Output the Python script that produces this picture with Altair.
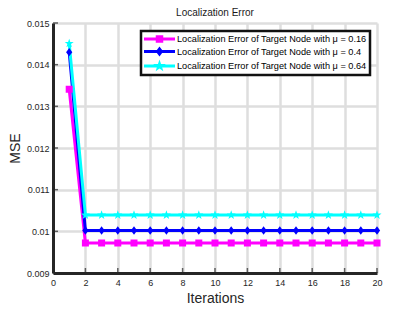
import altair as alt
import pandas as pd

iterations = [1, 2, 3, 4, 5, 6, 7, 8, 9, 10, 11, 12, 13, 14, 15, 16, 17, 18, 19, 20]
series_names = [
    "Localization Error of Target Node with μ = 0.16",
    "Localization Error of Target Node with μ = 0.4",
    "Localization Error of Target Node with μ = 0.64",
]
mse_016 = [0.01341, 0.00972, 0.00972, 0.00972, 0.00972, 0.00972, 0.00972, 0.00972, 0.00972, 0.00972,
           0.00972, 0.00972, 0.00972, 0.00972, 0.00972, 0.00972, 0.00972, 0.00972, 0.00972, 0.00972]
mse_040 = [0.01430, 0.01002, 0.01002, 0.01002, 0.01002, 0.01002, 0.01002, 0.01002, 0.01002, 0.01002,
           0.01002, 0.01002, 0.01002, 0.01002, 0.01002, 0.01002, 0.01002, 0.01002, 0.01002, 0.01002]
mse_064 = [0.01451, 0.01039, 0.01039, 0.01039, 0.01039, 0.01039, 0.01039, 0.01039, 0.01039, 0.01039,
           0.01039, 0.01039, 0.01039, 0.01039, 0.01039, 0.01039, 0.01039, 0.01039, 0.01039, 0.01039]
y_ticks = [0.009, 0.01, 0.011, 0.012, 0.013, 0.014, 0.015]
x_ticks = [0, 2, 4, 6, 8, 10, 12, 14, 16, 18, 20]

colors = ["#ff00ff", "#0000ff", "#00ffff"]

rows = []
for name, vals in zip(series_names, [mse_016, mse_040, mse_064]):
    for it, v in zip(iterations, vals):
        rows.append({"iteration": it, "mse": v, "series": name})
df = pd.DataFrame(rows)

xtick_df = pd.DataFrame({"iteration": x_ticks})
ytick_df = pd.DataFrame({"mse": y_ticks})

STAR = ("M0,-1L0.235,-0.324L0.951,-0.309L0.380,0.124L0.588,0.809L0,0.4"
        "L-0.588,0.809L-0.380,0.124L-0.951,-0.309L-0.235,-0.324Z")
DIAMOND = "M0,-1L0.75,0L0,1L-0.75,0Z"
SQUARE = "M-1,-1H1V1H-1Z"

# legend symbols: line segment + marker
LEG_SQ = "M-3.1,-0.3H3.1V0.3H-3.1Z M-0.75,-0.75H0.75V0.75H-0.75Z"
LEG_DI = "M-3.1,-0.3H3.1V0.3H-3.1Z M0,-1L0.75,0L0,1L-0.75,0Z"
LEG_ST = ("M-3.1,-0.3H3.1V0.3H-3.1Z M0,-1.3L0.306,-0.421L1.236,-0.402L0.494,0.161L0.764,1.052L0,0.52"
          "L-0.764,1.052L-0.494,0.161L-1.236,-0.402L-0.306,-0.421Z")

x_scale = alt.Scale(domain=[0, 20], nice=False)
y_scale = alt.Scale(domain=[0.009, 0.015], nice=False, zero=False)
x_enc = alt.X("iteration:Q", scale=x_scale,
              axis=alt.Axis(values=x_ticks, title="Iterations", labelPadding=5, titlePadding=4,
                            labelFlush=False, labelOverlap=False))
y_enc = alt.Y("mse:Q", scale=y_scale,
              axis=alt.Axis(values=y_ticks, format="~g", title="MSE", labelPadding=4,
                            labelFlush=False, labelOverlap=False))
color_nolegend = alt.Color("series:N", scale=alt.Scale(domain=series_names, range=colors), legend=None)

base = alt.Chart(df)

lines = base.mark_line(strokeWidth=3).encode(x=x_enc, y=y_enc, color=color_nolegend)

points = base.mark_point(filled=True, opacity=1, strokeWidth=0).encode(
    x=x_enc, y=y_enc, color=color_nolegend,
    shape=alt.Shape("series:N", scale=alt.Scale(domain=series_names, range=[SQUARE, DIAMOND, STAR]), legend=None),
    size=alt.Size("series:N", scale=alt.Scale(domain=series_names, range=[49, 90, 200]), legend=None),
)

leg = dict(title=None, orient="none", legendX=88, legendY=8,
           symbolSize=100, symbolOffset=10.5, labelOffset=12.5,
           symbolStrokeWidth=0, rowPadding=1.5, padding=3, labelLimit=400)

legend_layer = base.transform_filter("datum.iteration < 0").mark_point(filled=True, opacity=1).encode(
    x=x_enc, y=y_enc,
    color=alt.Color("series:N", scale=alt.Scale(domain=series_names, range=colors),
                    legend=alt.Legend(**leg)),
    shape=alt.Shape("series:N", scale=alt.Scale(domain=series_names, range=[LEG_SQ, LEG_DI, LEG_ST]),
                    legend=alt.Legend(**leg)),
)

# inward-pointing ticks (MATLAB style)
xticks_in = alt.Chart(xtick_df).transform_calculate(mse="0.009").mark_tick(
    orient="vertical", size=5, thickness=1.5, color="#262626", yOffset=-2.5
).encode(x=x_enc, y=y_enc)
yticks_in = alt.Chart(ytick_df).transform_calculate(iteration="0").mark_tick(
    orient="horizontal", size=5, thickness=1.5, color="#262626", xOffset=2.5
).encode(x=x_enc, y=y_enc)

chart = alt.layer(lines, points, legend_layer, xticks_in, yticks_in).resolve_scale(
    color="independent", shape="independent", size="independent"
).properties(
    width=324, height=250,
    padding={"left": 45, "top": 15, "right": 30, "bottom": 36},
    autosize="none",
    title=alt.TitleParams("Localization Error", fontSize=10, fontWeight="normal",
                          font="Liberation Sans", color="#1a1a1a", offset=1, anchor="middle"),
).configure_view(stroke=None).configure_axis(
    domainColor="#262626", domainWidth=3, gridColor="#dedede", gridWidth=2.5,
    ticks=False, labelFont="Liberation Sans", labelFontSize=9, labelColor="#262626",
    titleFont="Liberation Sans", titleFontSize=14, titleFontWeight="normal", titleColor="#262626",
).configure_legend(
    fillColor="white", strokeColor="#111111", strokeWidth=2.5,
    labelFont="Liberation Sans", labelFontSize=9.2, labelColor="#000000",
)

chart.save("out.html", embed_options={"renderer": "svg", "actions": False})
